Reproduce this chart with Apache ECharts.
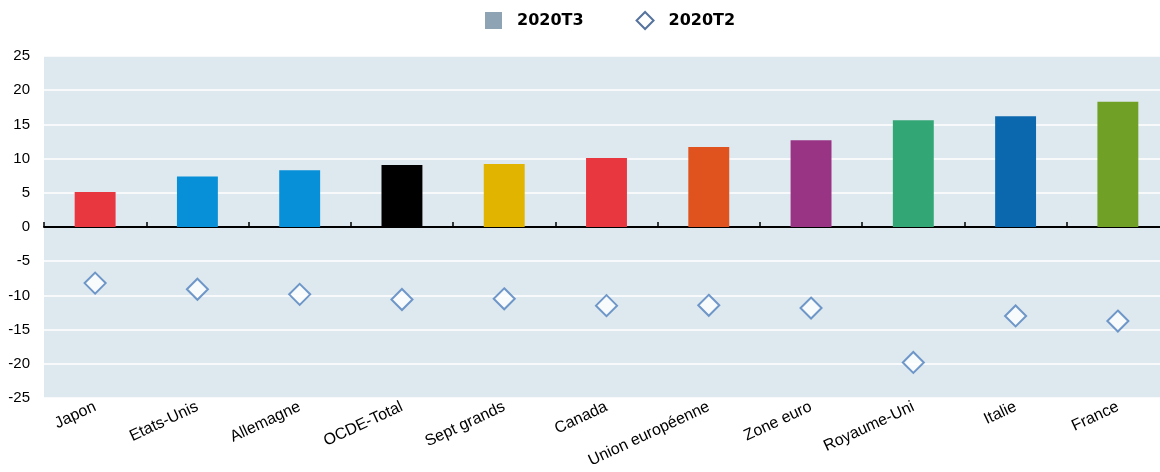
<!DOCTYPE html>
<html>
<head>
<meta charset="utf-8">
<script src="https://cdn.jsdelivr.net/npm/echarts@6/dist/echarts.min.js"></script>
<style>html,body{margin:0;padding:0;background:#fff}#c{width:1160px;height:472px}</style>
</head>
<body>
<div id="c"></div>
<script>
const categories = ["Japon","Etats-Unis","Allemagne","OCDE-Total","Sept grands","Canada","Union européenne","Zone euro","Royaume-Uni","Italie","France"];
const t3 = [5.1, 7.4, 8.3, 9.05, 9.2, 10.1, 11.7, 12.7, 15.6, 16.2, 18.3];
const t2 = [-8.2, -9.1, -9.85, -10.6, -10.5, -11.5, -11.45, -11.85, -19.8, -13.0, -13.75];
const yTicks = [-25, -20, -15, -10, -5, 0, 5, 10, 15, 20, 25];
const barColors = ["#e8373f","#078fd8","#078fd8","#000000","#e1b400","#e8373f","#e0521e","#993484","#33a676","#0b68ae","#71a026"];

const FONT = "'Liberation Sans', Arial, sans-serif";
const chart = echarts.init(document.getElementById('c'), null, {renderer:'canvas'});
chart.setOption({
  animation: false,
  legend: {
    top: 6, left: 480, itemGap: 52, itemWidth: 17, itemHeight: 17,
    textStyle: {fontFamily: "'DejaVu Sans'", fontWeight: 'bold', fontSize: 16, color: '#000', padding: [0,0,0,10]},
    data: [
      {name: '2020T3', icon: 'rect', itemStyle: {color: '#8ea3b3'}},
      {name: '2020T2', icon: 'diamond', itemStyle: {color: '#fff', borderColor: '#2a5084', borderWidth: 2}}
    ]
  },
  grid: {left: 44, width: 1125, top: 56, bottom: 74, outerBoundsMode: 'none', containLabel: false,
         show: true, backgroundColor: '#dde8ef', borderWidth: 0},
  xAxis: [
    {type: 'category', data: categories, position: 'bottom',
     axisLine: {onZero: true, lineStyle: {color: '#000', width: 2}},
     axisTick: {show: true, inside: true, length: 5, interval: 0, lineStyle: {color: '#000', width: 1.5}},
     axisLabel: {show: false}, splitLine: {show: false}},
    {type: 'category', data: categories, position: 'bottom',
     axisLine: {show: false, onZero: false}, axisTick: {show: false},
     axisLabel: {show: true, rotate: 25, interval: 0, margin: 8, fontFamily: FONT, fontSize: 16, color: '#000'}}
  ],
  yAxis: {
    type: 'value', min: yTicks[0], max: yTicks[yTicks.length-1], interval: 5,
    axisLine: {show: false}, axisTick: {show: false},
    axisLabel: {fontFamily: FONT, fontSize: 15, color: '#000', margin: 14},
    splitLine: {show: true, lineStyle: {color: '#ffffff', width: 1.5}}
  },
  series: [
    {name: '2020T3', type: 'bar', xAxisIndex: 0, barWidth: '40%',
     data: t3.map((v,i)=>({value: v, itemStyle: {color: barColors[i]}})),
     itemStyle: {color: '#8ea3b3'}, z: 2},
    {name: '2020T2', type: 'scatter', xAxisIndex: 0, symbol: 'diamond', symbolSize: [21, 21],
     data: t2, itemStyle: {color: '#fff', borderColor: '#4f80bd', borderWidth: 2}, z: 3}
  ]
});
</script>
</body>
</html>
